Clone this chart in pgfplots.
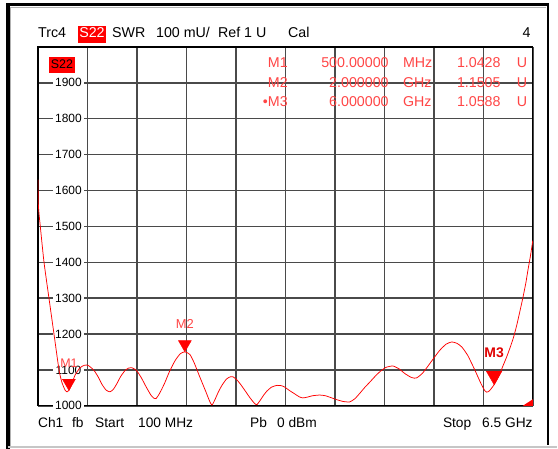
\documentclass[border=0pt]{standalone}
\usepackage{fontspec}
\setmainfont{Liberation Sans}
\usepackage{pgfplots}
\pgfplotsset{compat=1.18}
\definecolor{trace}{HTML}{FF0000}
\definecolor{mtext}{HTML}{FF4545}
\definecolor{gridc}{HTML}{4A4A4A}
\definecolor{mthree}{HTML}{E00000}
\begin{document}
\begin{tikzpicture}[x=1bp,y=1bp]
\path (-38,-43) rectangle (520,406);
% window border
\fill[black] (-32,-43) rectangle (-28,403);
\fill[black] (-32,399.5) rectangle (511,402.5);
\fill[black] (509,-39) rectangle (511,402.5);
\draw[gray!60, line width=0.6bp] (-27.2,-40) -- (-27.2,398.8) -- (508.5,398.8);
\draw[gray!45, line width=1.5bp] (-30,-41) -- (519.5,-41);
\begin{axis}[
  at={(0,0)}, anchor=south west, scale only axis,
  width=495bp, height=359bp,
  xmin=0.1, xmax=6.5, ymin=1000, ymax=2000,
  set layers,
  xtick={0.1,0.74,1.38,2.02,2.66,3.3,3.94,4.58,5.22,5.86,6.5},
  xticklabels={},
  ytick={1000,1100,1200,1300,1400,1500,1600,1700,1800,1900},
  major tick length=0pt,
  grid=major,
  major grid style={gridc, line width=1.5bp},
  axis line style={black, line width=1.3bp},
  /pgf/number format/assume math mode=true,
  /pgf/number format/1000 sep={},
  yticklabel style={anchor=center, xshift=30.5bp, fill=white, inner xsep=2.5bp, inner ysep=0.5bp,
    font=\fontsize{12}{13}\selectfont, text=black},
]
\addplot[trace, line width=0.75bp, smooth, tension=0.35] coordinates {
(0.100,1630)(0.106,1555)(0.130,1500)(0.178,1400)(0.242,1300)(0.307,1200)(0.372,1100)
(0.410,1065)(0.450,1044)(0.475,1039)(0.500,1042.8)(0.540,1062)(0.578,1085)(0.643,1106)
(0.700,1113)(0.746,1113)(0.800,1104)(0.837,1095)(0.880,1080)(0.927,1060)(0.980,1044)
(1.031,1039)(1.075,1046)(1.121,1062)(1.170,1082)(1.225,1098)(1.270,1105)(1.315,1106)
(1.360,1101)(1.393,1093)(1.440,1077)(1.496,1054)(1.560,1030)(1.600,1021)(1.626,1020)
(1.660,1030)(1.700,1046)(1.742,1065)(1.800,1095)(1.871,1125)(1.940,1145)(2.000,1150.5)
(2.065,1143)(2.120,1120)(2.194,1080)(2.270,1040)(2.320,1013)(2.350,1002)(2.380,1013)
(2.430,1037)(2.479,1057)(2.540,1075)(2.590,1081)(2.621,1081)(2.670,1073)(2.720,1060)
(2.776,1043)(2.840,1023)(2.900,1007)(2.931,1003)(2.970,1014)(3.020,1030)(3.061,1041)
(3.120,1052)(3.190,1057)(3.250,1056)(3.293,1052)(3.350,1043)(3.423,1033)(3.480,1025)
(3.526,1022)(3.580,1024)(3.650,1028)(3.746,1030)(3.820,1028)(3.900,1022)(3.966,1017)
(4.050,1012)(4.134,1011)(4.200,1020)(4.263,1035)(4.330,1052)(4.392,1066)(4.460,1082)
(4.522,1095)(4.600,1107)(4.690,1111)(4.770,1103)(4.845,1090)(4.920,1080)(4.970,1077)
(5.000,1078)(5.070,1090)(5.142,1110)(5.220,1133)(5.298,1155)(5.380,1172)(5.453,1178)
(5.520,1174)(5.582,1164)(5.660,1140)(5.750,1100)(5.830,1062)(5.880,1042)(5.905,1038)
(5.940,1042)(6.000,1058.8)(6.060,1082)(6.112,1110)(6.160,1135)(6.203,1160)(6.250,1190)
(6.293,1225)(6.330,1260)(6.371,1300)(6.410,1342)(6.435,1375)(6.470,1418)(6.500,1460)
};
\addplot[only marks, mark=triangle*, mark size=7.5bp, color=trace, mark options={yshift=7.5bp, rotate=180},
  nodes near coords={M1},
  every node near coord/.style={anchor=base, yshift=15.5bp, text=mtext, font=\fontsize{12.5}{13}\selectfont}]
  coordinates {(0.5,1042.8)};
\addplot[only marks, mark=triangle*, mark size=7.5bp, color=trace, mark options={yshift=7.5bp, rotate=180},
  nodes near coords={M2},
  every node near coord/.style={anchor=base, yshift=16bp, text=mtext, font=\fontsize{13}{14}\selectfont}]
  coordinates {(2.0,1150.5)};
\addplot[only marks, mark=triangle*, mark size=9bp, color=trace, mark options={yshift=9bp, rotate=180},
  nodes near coords={M3},
  every node near coord/.style={anchor=base, yshift=18bp, text=mthree, font=\fontsize{14}{15}\selectfont\bfseries}]
  coordinates {(6.0,1058.8)};
\end{axis}
% off-scale indicator
\fill[trace] (485,0) -- (495,0) -- (495,6.5) -- cycle;
% header
\begin{scope}[every node/.style={inner sep=0pt, font=\fontsize{14.3}{15}\selectfont}]
\node[anchor=base west] at (0,368) {Trc4};
\fill[trace] (40,363) rectangle (68,379.5);
\node[anchor=base, text=white] at (54,368) {S22};
\node[anchor=base west] at (74,368) {SWR};
\node[anchor=base west] at (118,368) {100 mU/};
\node[anchor=base west] at (180,368) {Ref 1 U};
\node[anchor=base west] at (250,368) {Cal};
\node[anchor=base east] at (493,368) {4};
% in-plot trace label
\fill[trace] (11,333) rectangle (37,349);
\node[anchor=base, font=\fontsize{12.5}{13}\selectfont] at (24,337) {S22};
% marker table
\begin{scope}[every node/.append style={text=mtext}]
\node[anchor=base east] at (250,338) {M1};
\node[anchor=base east] at (351,338) {500.00000};
\node[anchor=base west] at (365,338) {MHz};
\node[anchor=base east] at (463,338) {1.0428};
\node[anchor=base west] at (479,338) {U};
\node[anchor=base east] at (250,318.5) {M2};
\node[anchor=base east] at (351,318.5) {2.000000};
\node[anchor=base west] at (365,318.5) {GHz};
\node[anchor=base east] at (463,318.5) {1.1505};
\node[anchor=base west] at (479,318.5) {U};
\node[anchor=base east] at (250,299) {\textbullet M3};
\node[anchor=base east] at (351,299) {6.000000};
\node[anchor=base west] at (365,299) {GHz};
\node[anchor=base east] at (463,299) {1.0588};
\node[anchor=base west] at (479,299) {U};
\end{scope}
% footer
\begin{scope}[every node/.append style={font=\fontsize{13.8}{14}\selectfont}]
\node[anchor=base west] at (0,-22) {Ch1};
\node[anchor=base west] at (34,-22) {fb};
\node[anchor=base west] at (57,-22) {Start};
\node[anchor=base west] at (100,-22) {100 MHz};
\node[anchor=base west] at (212,-22) {Pb};
\node[anchor=base west] at (239,-22) {0 dBm};
\node[anchor=base west] at (405,-22) {Stop};
\node[anchor=base east] at (495,-22) {6.5 GHz};
\end{scope}
\end{scope}
\end{tikzpicture}
\end{document}
